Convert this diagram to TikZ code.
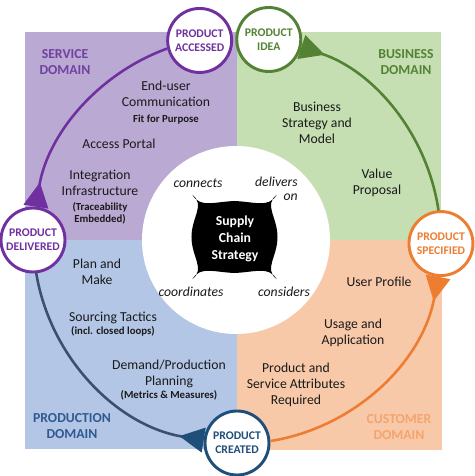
\documentclass[tikz,border=0pt]{standalone}
\usepackage{fontspec}
\setmainfont{Carlito}
\usepackage{tikz}
\usetikzlibrary{arrows.meta}

\definecolor{servfill}{HTML}{BAA9D3}
\definecolor{busfill}{HTML}{C5DFB3}
\definecolor{prodfill}{HTML}{B3C6E6}
\definecolor{custfill}{HTML}{F8C9A9}
\definecolor{servline}{HTML}{7030A0}
\definecolor{busline}{HTML}{548235}
\definecolor{custline}{HTML}{ED7D31}
\definecolor{prodline}{HTML}{1F4E79}
\definecolor{prodarc}{HTML}{3A5070}
\definecolor{servtext}{HTML}{7042A0}
\definecolor{prodtext}{HTML}{2F5A8F}
\definecolor{custtext}{HTML}{F4A46E}
\definecolor{bodytext}{HTML}{1A1A1A}

\begin{document}
\begin{tikzpicture}[x=0.03cm, y=0.03cm,
item/.style={align=center, inner sep=0pt, text=bodytext, font=\fontsize{11.7}{13.6}\selectfont},
verb/.style={item, font=\fontsize{11.7}{11.5}\selectfont\itshape},
domainlabel/.style={align=center, inner sep=0pt, font=\fontsize{11.7}{14.3}\selectfont\bfseries},
product/.style={circle, fill=white, line width=2.5pt, minimum size=1.92cm, inner sep=0pt, align=center, font=\fontsize{10}{12}\selectfont\bfseries},
loopline/.style={line width=2.2pt, {Triangle[reversed, length=21pt, width=21pt]}-},
]

\useasboundingbox (-237,-236) rectangle (237,240);

\fill[servfill] (-212,0) rectangle (0,208);
\fill[busfill] (0,0) rectangle (204,208);
\fill[prodfill] (-212,-209) rectangle (0,0);
\fill[custfill] (0,-210) rectangle (205,0);

\node[circle, fill=white, minimum size=5.64cm, inner sep=0pt] (hub) at (-1,0) {};

\fill[black, shift={(-2.5,3)}] (-42,42) .. controls (-34,29) and (-22,35) .. (0,36)
  .. controls (22,35) and (34,29) .. (42,42)
  .. controls (29,32) and (43,20) .. (43,0)
  .. controls (43,-20) and (29,-32) .. (42,-42)
  .. controls (34,-29) and (22,-35) .. (0,-36)
  .. controls (-22,-35) and (-34,-29) .. (-42,-42)
  .. controls (-29,-32) and (-43,-20) .. (-43,0)
  .. controls (-43,20) and (-29,32) .. cycle;
\node[item, text=white, font=\fontsize{11.7}{14.5}\selectfont\bfseries] (strategy) at (-2,1) {Supply\\Chain\\Strategy};

\node[verb] (connects) at (-39,57) {connects};
\node[verb, align=right, anchor=east] (delivers) at (61,51) {delivers\\on};
\node[verb] (coordinates) at (-46,-52) {coordinates};
\node[verb] (considers) at (47,-52) {considers};

\node[domainlabel, text=servtext] (service) at (-172,178) {SERVICE\\DOMAIN};
\node[domainlabel, text=busline] (business) at (169,178) {BUSINESS\\DOMAIN};
\node[domainlabel, text=prodtext] (production) at (-165,-186) {PRODUCTION\\DOMAIN};
\node[domainlabel, text=custtext] (customer) at (162,-187) {CUSTOMER\\DOMAIN};

\node[item] (enduser) at (-71,137) {End-user\\Communication\\{\fontsize{9.2}{11}\selectfont\bfseries Fit for Purpose}};
\node[item] (portal) at (-118,96) {Access Portal};
\node[item] (integration) at (-137,43) {Integration\\Infrastructure\\[-1pt]{\fontsize{9.2}{11}\selectfont\bfseries (Traceability}\\[-3pt]{\fontsize{9.2}{11}\selectfont\bfseries Embedded)}};

\node[item] (bizmodel) at (80,117) {Business\\Strategy and\\Model};
\node[item] (value) at (140,57) {Value\\Proposal};

\node[item] (planmake) at (-140,-32) {Plan and\\Make};
\node[item] (sourcing) at (-124,-84) {Sourcing Tactics\\[-2pt]{\fontsize{9.2}{11}\selectfont\bfseries (incl. closed loops)}};
\node[item] (planning) at (-68,-140) {Demand/Production\\Planning\\[-2pt]{\fontsize{9.2}{11}\selectfont\bfseries (Metrics \& Measures)}};

\node[item] (userprofile) at (142,-42) {User Profile};
\node[item] (usage) at (116,-93) {Usage and\\Application};
\node[item] (attributes) at (59,-145) {Product and\\Service Attributes\\Required};

\node[product, draw=servline, text=servline] (accessed) at (100.6:203) {PRODUCT\\ACCESSED};
\node[product, draw=busline, text=busline] (idea) at (81:203) {PRODUCT\\IDEA};
\node[product, draw=custline, text=custline] (specified) at (-1:204) {PRODUCT\\SPECIFIED};
\node[product, draw=prodline, text=prodline] (created) at (270:203) {PRODUCT\\CREATED};
\node[product, draw=servline, text=servline] (delivered) at (180:204) {PRODUCT\\DELIVERED};

\draw[loopline, busline] (idea.-13.7) arc[start angle=71.7, end angle=8.3, radius=203];
\draw[loopline, custline] (specified.-95.7) arc[start angle=-10.3, end angle=-80.7, radius=203];
\draw[loopline, prodarc, {Triangle[reversed, length=21pt, width=21pt, color=prodline]}-] (created.175.3) arc[start angle=260.7, end angle=189.3, radius=203];
\draw[loopline, servline] (delivered.85.3) arc[start angle=170.7, end angle=109.9, radius=203];
\end{tikzpicture}
\end{document}
